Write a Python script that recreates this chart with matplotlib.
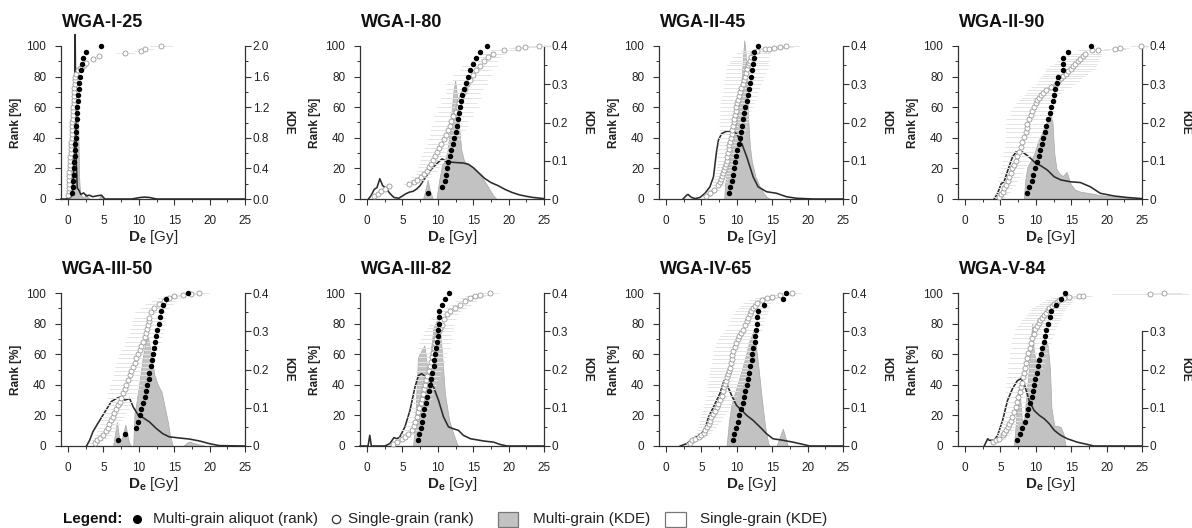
import numpy as np
import matplotlib
matplotlib.use("Agg")
import matplotlib.pyplot as plt
from matplotlib.lines import Line2D
from matplotlib.patches import Rectangle
from matplotlib.ticker import FixedLocator

plt.rcParams['font.family'] = ['Liberation Sans', 'DejaVu Sans']
plt.rcParams['mathtext.fontset'] = 'custom'
plt.rcParams['mathtext.rm'] = 'Liberation Sans'
plt.rcParams['mathtext.bf'] = 'Liberation Sans:bold'
plt.rcParams['mathtext.it'] = 'Liberation Sans:italic'

# ---------------- data ----------------
titles = ['WGA-I-25', 'WGA-I-80', 'WGA-II-45', 'WGA-II-90',
          'WGA-III-50', 'WGA-III-82', 'WGA-IV-65', 'WGA-V-84']
x_ticks = [0, 5, 10, 15, 20, 25]
rank_ticks = [0, 20, 40, 60, 80, 100]

# ---- WGA-I-25
I25_mg_de = [0.51, 0.64, 0.72, 0.77, 0.83, 0.88, 0.95, 0.99, 1.04, 1.08, 1.12, 1.16, 1.21,
             1.24, 1.28, 1.35, 1.43, 1.52, 1.60, 1.68, 1.77, 1.90, 2.05, 2.60, 4.70]
I25_sg_de = [0.02, 0.06, 0.09, 0.11, 0.15, 0.18, 0.20, 0.25, 0.27, 0.31,
             0.33, 0.37, 0.40, 0.42, 0.46, 0.50, 0.52, 0.56, 0.58, 0.62,
             0.64, 0.68, 0.71, 0.73, 0.77, 0.80, 0.82, 0.86, 0.89, 0.92,
             0.97, 1.01, 1.15, 1.35, 1.65, 1.95, 2.28, 2.60, 3.50, 4.40,
             8.10, 10.30, 10.90, 13.10]
I25_sg_rank = [2.5, 5, 7.5, 10, 12.5, 15, 17.5, 20, 22.5, 25,
               27.5, 30, 32.5, 35, 37.5, 40, 42.5, 45, 47.5, 50,
               52.5, 55, 57.5, 60, 62.5, 65, 67.5, 70, 72.5, 75,
               77.5, 80, 82, 84, 85.5, 86.5, 87.6, 88.7, 91.3, 93.5,
               95.2, 96.7, 97.8, 100]
I25_sg_err = [0.15, 0.15, 0.18, 0.18, 0.2, 0.2, 0.2, 0.22, 0.22, 0.22,
              0.24, 0.24, 0.25, 0.25, 0.26, 0.26, 0.28, 0.28, 0.28, 0.3,
              0.3, 0.3, 0.3, 0.32, 0.32, 0.32, 0.34, 0.34, 0.35, 0.35,
              0.36, 0.36, 0.3, 0.3, 0.3, 0.35, 0.4, 0.4, 0.45, 0.45,
              1.3, 1.0, 1.2, 1.7]
I25_mgkde_x = [-0.4, -0.1, 0.2, 0.5, 0.8, 1.1, 1.35, 1.45, 1.55, 1.7, 2.0, 2.3, 2.55, 2.8, 3.1, 4.3, 4.7, 5.1]
I25_mgkde_y = [0, 0.05, 0.2, 0.45, 0.75, 1.0, 1.17, 0.9, 0.3, 0.08, 0.03, 0.03, 0.07, 0.02, 0.0, 0.0, 0.06, 0.0]
I25_sgkde_x = [-1.0, -0.3, 0.2, 0.6, 0.85, 0.95, 1.0, 1.05, 1.15, 1.3, 1.5, 1.8, 2.2, 2.6, 3.0,
               3.5, 4.0, 4.7, 5.2, 9.0, 10.2, 10.8, 11.5, 12.5, 25.0]
I25_sgkde_y = [0, 0, 0.01, 0.05, 0.5, 1.6, 2.15, 1.6, 0.5, 0.14, 0.12, 0.06, 0.08, 0.04, 0.05,
               0.03, 0.04, 0.05, 0.0, 0.0, 0.02, 0.025, 0.02, 0.0, 0.0]

# ---- WGA-I-80
I80_mg_de = [8.57, 10.6, 10.95, 11.1, 11.3, 11.5, 11.7, 11.9, 12.1, 12.3, 12.5, 12.7, 12.9,
             13.0, 13.2, 13.3, 13.4, 13.7, 14.0, 14.3, 14.6, 15.0, 15.4, 16.0, 17.0]
I80_sg_de = [1.0, 1.5, 2.0, 2.6, 3.1, 5.9, 6.6, 7.1, 7.6, 8.0, 8.4, 8.7, 9.0, 9.3, 9.6, 9.9,
             10.2, 10.5, 10.8, 11.1, 11.4, 11.7, 11.9, 12.2, 12.5, 12.8, 13.0, 13.3, 13.5,
             13.8, 14.1, 14.5, 14.9, 15.4, 15.9, 16.5, 17.1, 17.8, 19.3, 21.3, 22.3, 24.3]
I80_sg_rank = [2.0, 3.5, 5.0, 6.8, 8.2, 9.6, 10.8, 12.3, 14.2, 16.4, 18.6, 20.7, 23.0, 25.4,
               28.0, 30.6, 33.3, 36.0, 39.0, 42.0, 45.0, 48.0, 51.0, 54.0, 57.0, 60.0, 63.0,
               66.0, 69.0, 72.0, 75.0, 78.0, 81.0, 84.0, 87.0, 90.0, 92.5, 95.0, 97.5, 98.7,
               99.3, 100.0]
I80_sg_err = [0.4, 0.4, 0.5, 0.5, 0.6, 0.8, 1.0, 1.0, 1.2, 1.2, 1.5, 1.5, 1.6, 1.8, 2.0, 2.0,
              2.2, 2.0, 2.4, 2.2, 2.5, 2.6, 2.4, 2.8, 2.5, 3.0, 2.6, 2.8, 2.4, 2.6, 3.0, 2.5,
              2.8, 2.2, 2.5, 2.0, 1.8, 1.5, 2.0, 1.2, 1.5, 1.8]
I80_mgkde_x = [7.9, 8.2, 8.55, 8.9, 9.3, 9.8, 10.2, 10.6, 11.0, 11.4, 11.8, 12.2, 12.45, 12.7,
               13.0, 13.3, 13.7, 14.2, 14.8, 15.5, 16.3, 17.0, 17.8, 18.3]
I80_mgkde_y = [0, 0.02, 0.05, 0.02, 0, 0, 0.05, 0.09, 0.10, 0.13, 0.2, 0.28, 0.31, 0.27,
               0.19, 0.13, 0.1, 0.09, 0.085, 0.075, 0.055, 0.035, 0.01, 0]
I80_sgkde_x = [0.2, 0.6, 1.0, 1.4, 1.8, 2.2, 2.7, 3.2, 3.8, 4.5, 5.0, 5.5, 6.0, 6.5, 7.0, 7.5,
               8.0, 8.5, 9.0, 9.5, 10.0, 10.6, 11.2, 12.0, 12.8, 13.6, 14.3, 15.0, 15.8, 16.6,
               17.5, 18.5, 19.5, 20.5, 21.5, 22.5, 23.5, 24.5, 25.0]
I80_sgkde_y = [0, 0.01, 0.025, 0.03, 0.053, 0.035, 0.028, 0.015, 0.004, 0.002, 0.008, 0.014,
               0.018, 0.02, 0.026, 0.035, 0.05, 0.063, 0.076, 0.086, 0.095, 0.105, 0.098,
               0.096, 0.095, 0.094, 0.091, 0.082, 0.068, 0.054, 0.043, 0.035, 0.025, 0.017,
               0.011, 0.007, 0.004, 0.002, 0.001]

# ---- WGA-II-45
II45_mg_de = [8.9, 9.05, 9.25, 9.4, 9.6, 9.75, 9.9, 10.05, 10.25, 10.4, 10.55, 10.75, 10.9,
              11.05, 11.2, 11.4, 11.55, 11.7, 11.9, 12.05, 12.2, 12.35, 12.4, 12.45, 13.0]
II45_sg_de = [5.7, 6.2, 6.8, 7.3, 7.55, 7.75, 7.9, 8.05, 8.2, 8.3,
              8.45, 8.55, 8.65, 8.75, 8.85, 8.95, 9.05, 9.15, 9.25, 9.35,
              9.45, 9.55, 9.65, 9.75, 9.85, 9.95, 10.05, 10.2, 10.35, 10.5,
              10.65, 10.8, 10.95, 11.1, 11.25, 11.4, 11.55, 11.65, 11.8, 11.95,
              12.3, 12.8, 14.0, 14.6, 15.2, 16.1, 16.9]
II45_sg_rank = [2, 4, 6, 9, 11, 13, 15, 17, 19, 21,
                23, 25, 27.5, 30, 32.5, 35, 37.5, 40, 42.5, 45,
                47.5, 50, 52.5, 55, 57.5, 60, 62.5, 65, 67.5, 70,
                72.5, 75, 77.5, 80, 82.5, 85, 87.5, 89, 90.5, 92.5,
                95.5, 97, 97.8, 98.2, 98.7, 99.3, 100]
II45_sg_err = [0.6, 0.7, 0.8, 0.9, 1.0, 1.0, 1.1, 1.2, 1.2, 1.3,
               1.3, 1.4, 1.5, 1.5, 1.6, 1.6, 1.7, 1.8, 1.8, 1.9,
               2.0, 2.0, 2.1, 2.2, 2.2, 2.3, 2.4, 2.4, 2.5, 2.5,
               2.6, 2.6, 2.7, 2.8, 2.8, 2.9, 3.0, 2.8, 2.7, 2.6,
               2.4, 2.2, 1.6, 1.6, 1.8, 1.8, 2.0]
II45_mgkde_x = [8.2, 8.35, 8.55, 9.0, 9.5, 10.0, 10.4, 10.7, 10.9, 11.05, 11.2, 11.4, 11.6,
                11.85, 12.1, 12.6, 13.25, 13.8, 14.2, 14.7]
II45_mgkde_y = [0, 0.04, 0.067, 0.1, 0.15, 0.21, 0.26, 0.32, 0.38, 0.415, 0.39, 0.33, 0.21,
                0.137, 0.10, 0.06, 0.032, 0.015, 0.006, 0]
II45_sgkde_x = [2.4, 2.9, 3.1, 3.6, 4.1, 4.8, 5.5, 6.2, 6.7, 7.1, 7.4, 7.85, 8.55, 9.25, 9.96,
                10.7, 11.4, 11.85, 12.3, 13.0, 14.2, 15.6, 17.0, 18.4, 20.8, 25.0]
II45_sgkde_y = [0, 0.01, 0.012, 0.004, 0.001, 0.004, 0.015, 0.032, 0.058, 0.12, 0.154, 0.171,
                0.177, 0.177, 0.171, 0.145, 0.11, 0.084, 0.058, 0.032, 0.019, 0.015, 0.006,
                0.002, 0, 0]

# ---- WGA-II-90
II90_mg_de = [8.7, 9.05, 9.4, 9.65, 9.9, 10.15, 10.4, 10.6, 10.8, 11.0, 11.25, 11.5, 11.7,
              11.95, 12.2, 12.4, 12.6, 12.75, 12.95, 13.2, 13.8, 13.85, 13.9, 14.5, 17.8]
II90_sg_de = [4.8, 5.1, 5.3, 5.55, 5.8, 6.0, 6.2, 6.45, 6.7, 6.95,
              7.2, 7.4, 7.6, 7.85, 8.1, 8.35, 8.6, 8.7, 8.8, 9.05,
              9.3, 9.5, 9.75, 10.0, 10.2, 10.45, 10.7, 11.05, 11.4, 12.1,
              12.8, 13.15, 13.5, 13.85, 14.2, 14.55, 14.9, 15.25, 15.6, 15.95,
              16.3, 16.65, 17.0, 17.96, 18.8, 21.2, 21.95, 24.8]
II90_sg_rank = [1.5, 3.0, 4.8, 7.0, 9.0, 11.5, 14.6, 17.3, 20.0, 22.5,
                25.0, 28.0, 31.0, 34.0, 37.0, 40.5, 44.0, 46.5, 49.0, 52.0,
                55.0, 57.5, 60.0, 62.5, 64.6, 66.3, 68.0, 69.5, 71.0, 73.0,
                75.0, 77.0, 79.0, 80.5, 82.0, 83.5, 85.0, 86.7, 88.5, 90.0,
                91.7, 93.3, 95.0, 97.2, 97.6, 98.3, 99.0, 100.0]
II90_sg_err = [0.8, 0.9, 1.0, 1.1, 1.2, 1.3, 1.5, 1.6, 1.6, 1.8,
               2.0, 2.0, 2.2, 2.2, 2.4, 2.6, 2.8, 3.0, 3.0, 3.2,
               3.0, 3.2, 3.0, 2.8, 2.6, 2.4, 2.4, 2.5, 2.6, 2.8,
               2.8, 2.9, 3.0, 3.1, 3.2, 3.3, 3.4, 3.2, 3.0, 2.9,
               2.6, 2.5, 2.4, 2.0, 1.5, 1.5, 1.2, 1.5]
II90_mgkde_x = [8.3, 8.5, 8.8, 9.3, 9.8, 10.3, 10.8, 11.3, 11.8, 12.1, 12.35, 12.6, 12.9, 13.3,
                13.8, 14.35, 14.9, 15.5, 16.3, 17.7, 19.1, 21.0, 23.0, 24.8]
II90_mgkde_y = [0, 0.05, 0.084, 0.1, 0.12, 0.15, 0.17, 0.19, 0.215, 0.22, 0.2, 0.12, 0.08,
                0.067, 0.06, 0.071, 0.04, 0.025, 0.019, 0.015, 0.01, 0.006, 0.003, 0]
II90_sgkde_x = [4.1, 4.6, 5.1, 5.5, 6.2, 6.7, 7.2, 7.6, 8.1, 9.05, 10.0, 10.7, 11.6, 12.6,
                13.5, 14.9, 16.3, 17.7, 19.1, 21.0, 22.9, 25.0]
II90_sgkde_y = [0, 0.015, 0.04, 0.045, 0.084, 0.11, 0.123, 0.119, 0.123, 0.11, 0.093, 0.087,
                0.076, 0.058, 0.05, 0.045, 0.043, 0.032, 0.015, 0.008, 0.004, 0.001]

# ---- WGA-III-50
III50_mg_de = [7.05, 8.1, 9.6, 9.9, 10.1, 10.3, 10.6, 10.8, 11.0, 11.2, 11.4, 11.5, 11.65,
               11.8, 12.0, 12.1, 12.3, 12.45, 12.6, 12.8, 13.0, 13.2, 13.4, 13.9, 17.0]
III50_sg_de = [3.76, 4.1, 4.46, 4.9, 5.3, 5.6, 5.85, 6.1, 6.3, 6.55,
               6.8, 7.05, 7.3, 7.5, 7.75, 8.0, 8.2, 8.45, 8.7, 8.95,
               9.2, 9.4, 9.6, 9.85, 10.1, 10.35, 10.6, 10.8, 11.0, 11.15,
               11.3, 11.4, 11.5, 11.65, 12.2, 12.8, 13.5, 14.2, 15.0, 16.2,
               17.4, 18.5]
III50_sg_rank = [2.2, 3.7, 5.3, 7.4, 9.6, 12.0, 14.7, 17.0, 19.0, 21.5,
                 24.0, 26.5, 28.9, 31.5, 34.4, 37.0, 39.8, 43.0, 46.4, 49.0,
                 51.9, 54.5, 57.3, 60.0, 62.8, 65.5, 68.3, 71.0, 73.7, 76.5,
                 79.2, 81.4, 83.6, 87.5, 90.0, 92.5, 95.0, 96.8, 97.8, 98.9,
                 99.6, 100.0]
III50_sg_err = [0.8, 0.9, 1.0, 1.1, 1.2, 1.3, 1.4, 1.5, 1.6, 1.7,
                1.8, 1.9, 2.0, 2.0, 2.2, 2.2, 2.3, 2.4, 2.4, 2.5,
                2.5, 2.6, 2.6, 2.6, 2.6, 2.5, 2.5, 2.5, 2.4, 2.4,
                2.3, 2.3, 2.2, 2.2, 2.0, 2.0, 1.8, 1.6, 1.6, 1.4,
                1.4, 1.4]
III50_mgkde_x = [6.35, 6.9, 7.3, 7.66, 8.1, 8.6, 8.9, 9.2, 9.4, 9.6, 10.1, 10.6, 11.0, 11.3,
                 11.75, 12.2, 12.7, 13.2, 13.6, 14.1, 14.4, 14.8, 16.2, 17.06, 18.1, 19.5]
III50_mgkde_y = [0, 0.063, 0.01, 0.024, 0.056, 0.01, 0, 0, 0.089, 0.107, 0.168, 0.238, 0.277,
                 0.286, 0.238, 0.186, 0.159, 0.142, 0.107, 0.063, 0.028, 0, 0, 0.012, 0.006, 0]
III50_sgkde_x = [2.6, 3.05, 3.5, 4.2, 5.2, 6.1, 6.8, 7.5, 8.0, 8.7, 9.2, 9.9, 10.6, 11.5, 12.45,
                 13.4, 14.3, 15.7, 17.2, 18.6, 20.0, 21.4, 25.0]
III50_sgkde_y = [0, 0.015, 0.037, 0.059, 0.089, 0.116, 0.124, 0.129, 0.12, 0.124, 0.102, 0.081,
                 0.074, 0.063, 0.046, 0.032, 0.024, 0.021, 0.018, 0.013, 0.006, 0.001, 0]

# ---- WGA-III-82
III82_mg_de = [7.25, 7.4, 7.6, 7.8, 7.95, 8.1, 8.3, 8.5, 8.7, 8.9, 9.0, 9.2, 9.4, 9.5, 9.65,
               9.8, 9.9, 10.0, 10.05, 10.1, 10.15, 10.2, 10.6, 11.0, 11.6]
III82_sg_de = [3.7, 4.2, 4.9, 5.35, 5.8, 6.3, 6.6, 6.8, 7.0, 7.2,
               7.4, 7.55, 7.7, 7.85, 8.0, 8.2, 8.35, 8.5, 8.7, 8.85,
               9.0, 9.15, 9.3, 9.45, 9.6, 9.75, 9.9, 10.1, 10.3, 10.55,
               10.8, 11.3, 11.7, 12.45, 13.2, 13.9, 14.6, 15.3, 16.0, 17.4]
III82_sg_rank = [1.5, 2.6, 4.8, 5.8, 8.0, 10.2, 13.0, 16.0, 19.0, 22.0,
                 25.0, 28.0, 31.0, 34.0, 37.0, 40.0, 43.0, 46.0, 49.0, 52.0,
                 55.0, 58.0, 61.0, 64.0, 67.0, 70.0, 72.5, 75.0, 77.0, 79.0,
                 82.7, 86.0, 88.0, 90.0, 92.4, 94.6, 96.8, 97.8, 98.9, 100.0]
III82_sg_err = [0.5, 0.6, 0.8, 0.9, 1.0, 1.5, 1.2, 1.2, 1.3, 1.3,
                1.4, 1.4, 1.5, 1.5, 1.6, 1.6, 1.7, 1.8, 1.8, 1.9,
                2.0, 2.0, 2.1, 2.2, 2.2, 2.2, 2.0, 2.0, 1.8, 1.8,
                1.8, 1.6, 1.6, 1.5, 1.5, 1.5, 1.4, 1.4, 1.3, 1.2]
III82_mgkde_x = [6.5, 6.8, 7.0, 7.2, 7.7, 7.95, 8.1, 8.4, 8.7, 9.0, 9.4, 9.85, 10.2, 10.6, 11.0,
                 11.6, 12.2, 12.7, 12.9]
III82_mgkde_y = [0, 0.067, 0.154, 0.232, 0.25, 0.258, 0.263, 0.22, 0.18, 0.25, 0.31, 0.328,
                 0.328, 0.24, 0.137, 0.067, 0.032, 0.006, 0]
III82_sgkde_x = [-1.0, 0.14, 0.38, 0.6, 2.5, 3.2, 3.8, 4.2, 4.6, 5.35, 6.06, 6.77, 7.25, 7.7, 8.4,
                 8.9, 9.4, 10.1, 10.8, 11.5, 12.2, 12.9, 13.6, 14.6, 16.5, 17.9, 18.8, 19.8, 25.0]
III82_sgkde_y = [0, 0, 0.028, 0, 0, 0.006, 0.022, 0.019, 0.023, 0.05, 0.093, 0.154, 0.184,
                 0.189, 0.18, 0.171, 0.154, 0.119, 0.076, 0.05, 0.045, 0.041, 0.028, 0.019,
                 0.013, 0.01, 0.004, 0, 0]

# ---- WGA-IV-65
IV65_mg_de = [9.5, 9.55, 9.9, 10.1, 10.3, 10.6, 10.8, 11.0, 11.2, 11.4, 11.6, 11.75, 11.9,
              12.1, 12.2, 12.35, 12.5, 12.6, 12.7, 12.8, 12.9, 12.95, 13.9, 16.5, 17.0]
IV65_sg_de = [3.4, 3.6, 4.1, 4.6, 5.0, 5.3, 5.5, 5.8, 6.0, 6.2,
              6.4, 6.65, 6.9, 7.15, 7.4, 7.6, 7.85, 8.05, 8.2, 8.35,
              8.5, 8.65, 8.8, 8.9, 9.0, 9.13, 9.26, 9.38, 9.5, 9.7,
              9.9, 10.1, 10.3, 10.6, 10.9, 11.15, 11.4, 11.6, 11.8, 12.05,
              12.3, 12.55, 12.8, 13.5, 14.2, 14.9, 16.1, 17.8]
IV65_sg_rank = [2.0, 3.7, 4.8, 5.8, 6.9, 8.5, 10.2, 12.4, 14.5, 16.6,
                18.8, 21.0, 23.0, 25.2, 27.5, 30.0, 33.0, 35.7, 38.3, 40.5,
                42.6, 44.8, 47.0, 49.0, 51.3, 54.0, 56.7, 59.3, 62.0, 64.8,
                67.5, 69.7, 71.9, 74.0, 76.0, 78.8, 81.6, 83.8, 86.0, 88.0,
                90.0, 91.8, 93.5, 95.7, 96.8, 97.4, 98.5, 100.0]
IV65_sg_err = [0.6, 0.7, 0.8, 0.9, 1.0, 1.1, 1.2, 1.3, 1.4, 1.5,
               1.6, 1.7, 1.8, 1.9, 2.0, 2.1, 2.2, 2.3, 2.4, 2.5,
               2.6, 2.6, 2.7, 2.7, 2.8, 2.8, 2.8, 2.8, 2.8, 2.8,
               2.8, 2.7, 2.7, 2.6, 2.6, 2.5, 2.5, 2.4, 2.4, 2.3,
               2.2, 2.1, 2.0, 1.8, 1.6, 1.5, 1.4, 1.2]
IV65_mgkde_x = [8.55, 8.9, 9.26, 9.7, 10.4, 11.1, 11.8, 12.3, 12.55, 13.0, 13.5, 14.0, 14.4,
                14.6, 15.6, 16.5, 17.2]
IV65_mgkde_y = [0, 0.067, 0.11, 0.137, 0.18, 0.224, 0.276, 0.3, 0.284, 0.215, 0.128, 0.05,
                0.01, 0, 0, 0.045, 0]
IV65_sgkde_x = [2.0, 2.9, 3.85, 4.6, 5.0, 5.5, 6.0, 6.7, 7.6, 8.2, 8.55, 9.26, 9.96, 10.7, 11.4,
                12.3, 13.25, 14.2, 15.1, 16.5, 17.95, 19.4, 20.3, 25.0]
IV65_sgkde_y = [0, 0.006, 0.019, 0.028, 0.032, 0.045, 0.076, 0.102, 0.137, 0.171, 0.163, 0.132,
                0.106, 0.093, 0.08, 0.067, 0.05, 0.032, 0.019, 0.015, 0.01, 0.004, 0, 0]

# ---- WGA-V-84
V84_mg_de = [7.4, 7.8, 8.1, 8.4, 8.7, 8.9, 9.15, 9.4, 9.6, 9.75, 9.95, 10.1, 10.3, 10.5, 10.7,
             10.9, 11.1, 11.3, 11.5, 11.7, 12.0, 12.2, 12.8, 13.5, 14.1]
V84_sg_de = [3.9, 4.4, 4.8, 5.3, 5.55, 5.8, 6.0, 6.2, 6.45, 6.7,
             6.95, 7.2, 7.35, 7.5, 7.7, 7.9, 8.05, 8.2, 8.35, 8.5,
             8.65, 8.8, 8.95, 9.15, 9.3, 9.5, 9.7, 9.9, 10.15, 10.4,
             10.65, 10.9, 11.15, 11.4, 11.65, 11.9, 12.25, 12.6, 12.95, 13.3,
             14.0, 14.7, 16.1, 16.6, 26.2, 28.1]
V84_sg_rank = [2.6, 3.7, 4.8, 6.9, 8.5, 10.2, 12.4, 14.5, 16.6, 18.8,
               22.0, 25.3, 28.5, 31.8, 35.0, 38.3, 41.5, 44.8, 48.0, 51.3,
               54.5, 57.8, 61.0, 64.3, 67.5, 70.8, 73.5, 76.2, 78.3, 80.5,
               82.2, 83.8, 85.4, 87.0, 88.6, 90.3, 91.6, 92.9, 94.3, 95.7,
               96.8, 97.4, 97.8, 98.3, 99.1, 100.0]
V84_sg_err = [0.6, 0.7, 0.8, 0.9, 1.0, 1.1, 1.2, 1.3, 1.4, 1.5,
              1.6, 1.7, 1.8, 1.9, 2.0, 2.1, 2.2, 2.3, 2.4, 2.5,
              2.6, 2.6, 2.7, 2.7, 2.8, 2.8, 2.8, 2.8, 2.8, 2.7,
              2.7, 2.6, 2.6, 2.5, 2.5, 2.4, 2.3, 2.2, 2.1, 2.0,
              1.8, 1.6, 1.5, 1.4, 5.5, 2.5]
V84_mgkde_x = [6.9, 7.2, 7.4, 7.65, 7.9, 8.1, 8.3, 8.6, 9.0, 9.3, 9.5, 9.7, 10.0, 10.5, 11.0,
               11.3, 11.7, 12.0, 12.2, 12.6, 13.5, 13.9, 14.2]
V84_mgkde_y = [0, 0.067, 0.137, 0.154, 0.1, 0.05, 0.06, 0.12, 0.2, 0.28, 0.32, 0.25, 0.22, 0.24,
               0.27, 0.284, 0.26, 0.2, 0.1, 0.054, 0.05, 0.032, 0]
V84_sgkde_x = [2.7, 3.2, 3.4, 4.1, 4.6, 5.3, 6.0, 6.7, 7.4, 7.9, 8.35, 9.05, 9.75, 10.5, 11.2,
               11.9, 12.6, 13.5, 14.45, 15.85, 17.3, 18.2, 25.0]
V84_sgkde_y = [0, 0.019, 0.015, 0.015, 0.028, 0.067, 0.119, 0.15, 0.171, 0.176, 0.163, 0.119,
               0.093, 0.08, 0.071, 0.058, 0.041, 0.028, 0.019, 0.01, 0.004, 0, 0]

# KDE axis settings per panel
kde_ticks_std = [0, 0.1, 0.2, 0.3, 0.4]
kde_labels_std = ['0', '0.1', '0.2', '0.3', '0.4']
kde_ticks_I25 = [0, 0.4, 0.8, 1.2, 1.6, 2.0]
kde_labels_I25 = ['0.0', '0.4', '0.8', '1.2', '1.6', '2.0']
kde_ticks_V84 = [0, 0.1, 0.2, 0.3]
kde_labels_V84 = ['0', '0.1', '0.2', '0.3']

panels = [
    dict(mg=I25_mg_de, sg=I25_sg_de, sgr=I25_sg_rank, sge=I25_sg_err,
         mkx=I25_mgkde_x, mky=I25_mgkde_y, skx=I25_sgkde_x, sky=I25_sgkde_y,
         kt=kde_ticks_I25, kl=kde_labels_I25, klim=2.0, kmin=0.2),
    dict(mg=I80_mg_de, sg=I80_sg_de, sgr=I80_sg_rank, sge=I80_sg_err,
         mkx=I80_mgkde_x, mky=I80_mgkde_y, skx=I80_sgkde_x, sky=I80_sgkde_y,
         kt=kde_ticks_std, kl=kde_labels_std, klim=0.4, kmin=0.05),
    dict(mg=II45_mg_de, sg=II45_sg_de, sgr=II45_sg_rank, sge=II45_sg_err,
         mkx=II45_mgkde_x, mky=II45_mgkde_y, skx=II45_sgkde_x, sky=II45_sgkde_y,
         kt=kde_ticks_std, kl=kde_labels_std, klim=0.4, kmin=0.05),
    dict(mg=II90_mg_de, sg=II90_sg_de, sgr=II90_sg_rank, sge=II90_sg_err,
         mkx=II90_mgkde_x, mky=II90_mgkde_y, skx=II90_sgkde_x, sky=II90_sgkde_y,
         kt=kde_ticks_std, kl=kde_labels_std, klim=0.4, kmin=0.05),
    dict(mg=III50_mg_de, sg=III50_sg_de, sgr=III50_sg_rank, sge=III50_sg_err,
         mkx=III50_mgkde_x, mky=III50_mgkde_y, skx=III50_sgkde_x, sky=III50_sgkde_y,
         kt=kde_ticks_std, kl=kde_labels_std, klim=0.4, kmin=0.05),
    dict(mg=III82_mg_de, sg=III82_sg_de, sgr=III82_sg_rank, sge=III82_sg_err,
         mkx=III82_mgkde_x, mky=III82_mgkde_y, skx=III82_sgkde_x, sky=III82_sgkde_y,
         kt=kde_ticks_std, kl=kde_labels_std, klim=0.4, kmin=0.05),
    dict(mg=IV65_mg_de, sg=IV65_sg_de, sgr=IV65_sg_rank, sge=IV65_sg_err,
         mkx=IV65_mgkde_x, mky=IV65_mgkde_y, skx=IV65_sgkde_x, sky=IV65_sgkde_y,
         kt=kde_ticks_std, kl=kde_labels_std, klim=0.4, kmin=0.05),
    dict(mg=V84_mg_de, sg=V84_sg_de, sgr=V84_sg_rank, sge=V84_sg_err,
         mkx=V84_mgkde_x, mky=V84_mgkde_y, skx=V84_sgkde_x, sky=V84_sgkde_y,
         kt=kde_ticks_V84, kl=kde_labels_V84, klim=0.4, kmin=0.05),
]

# ---------------- layout ----------------
W, H = 1192, 528
fig = plt.figure(figsize=(W / 100, H / 100), dpi=100)

col_left = [61, 360, 659, 958]
row_top = [46, 293]
AX_W, AX_H = 184, 153
GRAY_FILL = '#c2c2c2'
GRAY_EDGE = '#a8a8a8'
ERR_COL = '#e4e4e4'


def fx(x):
    return x / W


def fy(y):
    return 1 - y / H


for i, p in enumerate(panels):
    r, c = divmod(i, 4)
    l, t = col_left[c], row_top[r]
    kax = fig.add_axes([fx(l), fy(t + AX_H), AX_W / W, AX_H / H])
    rax = kax.twinx()

    kax.set_xlim(-1, 25)
    kax.set_ylim(0, p['klim'])
    rax.set_ylim(0, 100)

    # KDE curves
    kax.fill_between(p['mkx'], p['mky'], 0, facecolor=GRAY_FILL, edgecolor=GRAY_EDGE,
                     linewidth=0.5, clip_on=False, zorder=1)
    kax.plot(p['skx'], p['sky'], color='#2b2b2b', lw=1.15, clip_on=False, zorder=3)

    # rank plots
    sg = np.array(p['sg'])
    sge = np.array(p['sge'])
    rax.hlines(p['sgr'], sg - sge, sg + sge, color=ERR_COL, lw=0.7, zorder=1, clip_on=False)
    rax.plot(sg, p['sgr'], 'o', ls='none', ms=3.6, mfc='white', mec='#999999', mew=0.6,
             clip_on=False, zorder=2)
    mg = np.sort(np.array(p['mg']))
    mg_rank = np.arange(1, len(mg) + 1) / len(mg) * 100
    rax.plot(mg, mg_rank, 'o', ls='none', ms=3.9, color='black', mew=0,
             clip_on=False, zorder=4)

    # axes cosmetics
    kax.yaxis.tick_right()
    kax.yaxis.set_label_position('right')
    rax.yaxis.tick_left()
    rax.yaxis.set_label_position('left')

    for s in ['top', 'left']:
        kax.spines[s].set_visible(False)
    for s in ['top', 'right', 'bottom']:
        rax.spines[s].set_visible(False)
    for sp in [kax.spines['bottom'], kax.spines['right'], rax.spines['left']]:
        sp.set_color('#333333')
        sp.set_linewidth(0.9)
    kax.spines['right'].set_bounds(0, p['kt'][-1])

    kax.set_xticks(x_ticks)
    kax.xaxis.set_minor_locator(FixedLocator([2.5, 7.5, 12.5, 17.5, 22.5]))
    kax.set_yticks(p['kt'])
    kax.set_yticklabels(p['kl'])
    kmin = p['kmin']
    kax.yaxis.set_minor_locator(FixedLocator([v + kmin for v in p['kt'][:-1]]))
    rax.set_yticks(rank_ticks)
    rax.yaxis.set_minor_locator(FixedLocator([10, 30, 50, 70, 90]))

    kax.tick_params(axis='x', which='major', direction='out', length=4, width=0.8,
                    pad=7.5, labelsize=8.5, color='#333333', labelcolor='#222222')
    kax.tick_params(axis='x', which='minor', direction='out', length=2.5, width=0.7,
                    color='#333333')
    kax.tick_params(axis='y', which='major', direction='out', length=4, width=0.8,
                    pad=1.5, labelsize=8.5, color='#333333', labelcolor='#222222')
    kax.tick_params(axis='y', which='minor', direction='out', length=2.5, width=0.7,
                    color='#333333')
    rax.tick_params(axis='y', which='major', direction='out', length=4, width=0.8,
                    pad=6.5, labelsize=8.5, color='#333333', labelcolor='#222222')
    rax.tick_params(axis='y', which='minor', direction='out', length=2.5, width=0.7,
                    color='#333333')

    rax.set_ylabel('Rank [%]', fontsize=8.5, fontweight='bold', color='#222222',
                   va='center', ha='center')
    rax.yaxis.set_label_coords(-45 / AX_W, 0.5)
    kax.set_ylabel('KDE', fontsize=8.5, fontweight='bold', color='#222222',
                   rotation=270, va='center', ha='center', rotation_mode='anchor')
    kax.yaxis.set_label_coords(1 + 43 / AX_W, 0.5)
    kax.set_xlabel(r'$\mathbf{D_e}$ [Gy]', fontsize=11, color='#222222', va='center')
    kax.xaxis.set_label_coords(0.5, -38 / AX_H)

    fig.text(fx(l + 1), fy(t - 19), titles[i], fontsize=13, fontweight='bold',
             ha='left', va='baseline', color='#111111')

# ---------------- legend ----------------
ly = fy(519)
fig.text(fx(63), ly, 'Legend:', fontsize=11, fontweight='bold', va='center', ha='left',
         color='#111111')
fig.add_artist(Line2D([fx(137)], [ly], marker='o', ms=6.5, color='black', mew=0,
                      transform=fig.transFigure))
fig.text(fx(153), ly, 'Multi-grain aliquot (rank)', fontsize=11, va='center', ha='left',
         color='#222222')
fig.add_artist(Line2D([fx(336)], [ly], marker='o', ms=6, mfc='white', mec='#333333',
                      mew=0.9, transform=fig.transFigure))
fig.text(fx(348), ly, 'Single-grain (rank)', fontsize=11, va='center', ha='left',
         color='#222222')
fig.add_artist(Rectangle((fx(498), fy(527)), 20 / W, 15 / H, facecolor=GRAY_FILL,
                         edgecolor='#777777', lw=0.9, transform=fig.transFigure))
fig.text(fx(533), ly, 'Multi-grain (KDE)', fontsize=11, va='center', ha='left',
         color='#222222')
fig.add_artist(Rectangle((fx(665), fy(527)), 21 / W, 15 / H, facecolor='white',
                         edgecolor='#777777', lw=0.9, transform=fig.transFigure))
fig.text(fx(700), ly, 'Single-grain (KDE)', fontsize=11, va='center', ha='left',
         color='#222222')

fig.savefig('out.png', dpi=100)
